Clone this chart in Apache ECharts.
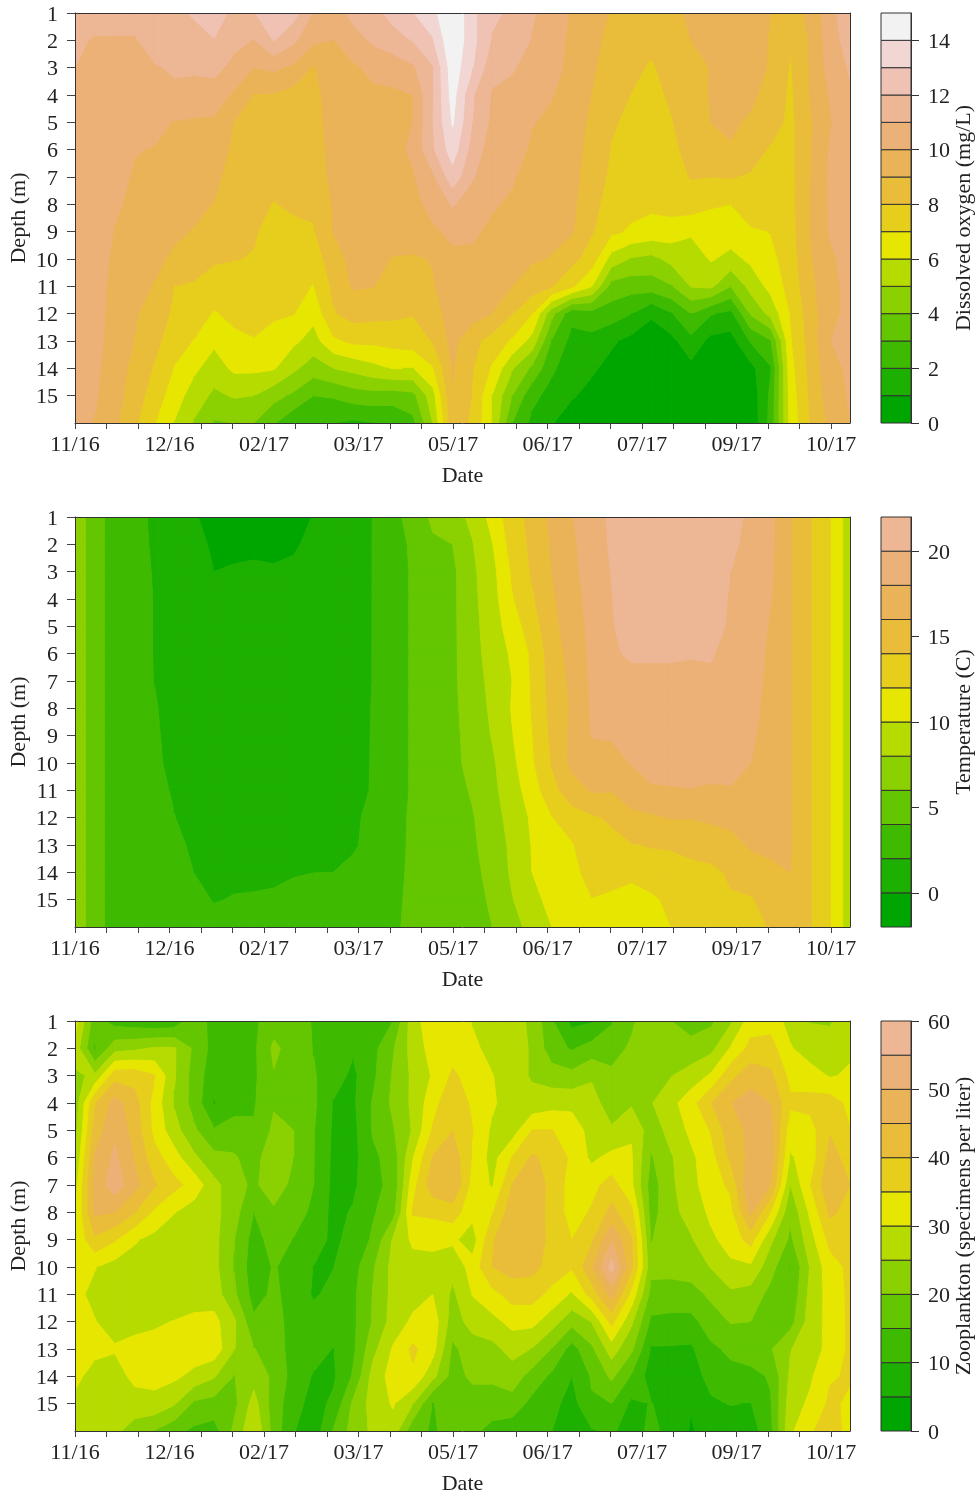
<!DOCTYPE html>
<html><head><meta charset="utf-8">
<style>html,body{margin:0;padding:0;background:#fff}#c{width:976px;height:1493px}</style>
<script src="https://cdn.jsdelivr.net/npm/echarts@6/dist/echarts.min.js"></script>
</head><body><div id="c"></div>
<script>
const dateLabels=['11/16','12/16','02/17','03/17','05/17','06/17','07/17','09/17','10/17'];
const depths=[1,2,3,4,5,6,7,8,9,10,11,12,13,14,15];
const oxygenTicks=[0,2,4,6,8,10,12,14];
const temperatureTicks=[0,5,10,15,20];
const zooplanktonTicks=[0,10,20,30,40,50,60];
// each inner array: one sampling date, depth 1..16
const oxygen=[
[11.5,11.2,11,10.9,10.8,10.7,10.7,10.6,10.6,10.5,10.5,10.4,10.4,10.4,10.3,10.2],
[11.5,10.9,10.8,10.8,10.7,10.7,10.6,10.6,10.5,10.5,10.4,10.4,10.3,10.2,10.1,9.95],
[11.5,10.9,10.8,10.6,10.5,10.4,10.3,10.15,9.95,9.8,9.7,9.6,9.6,9.5,9.4,9.2],
[11.4,10.9,10.6,10.4,10.2,10.05,9.9,9.75,9.6,9.4,9.3,9.1,8.97,8.7,8.5,8.2],
[11.7,11.5,10.9,10.6,10.3,9.95,9.75,9.6,9.35,9.2,8.95,8.6,8.3,7.9,7.5,7.05],
[11.8,11.5,11.15,10.75,9.95,9.75,9.5,9.25,9.15,8.85,8,7.8,7.4,6.95,6.5,5.95],
[12.1,11.7,11.2,10.5,9.9,9.7,9.4,9.2,8.95,8.4,7.9,7.5,6.95,6.2,5.5,4.9],
[12.6,11.95,11.3,10.5,9.85,9.5,9.2,8.97,8.5,8.1,7.6,6.9,6.2,5.5,4.8,3.9],
[11.7,11.3,10.7,9.85,8.97,8.8,8.65,8.45,8.2,8.02,7.65,7.3,6.7,6.2,5.1,4],
[11.9,10.95,10,8.95,8.8,8.6,8.4,8.2,8.05,7.97,7.6,7.3,6.95,6.2,5,4],
[13.05,12.05,10.2,8.9,8.65,8.4,8.2,7.97,7.8,7.6,7.4,7.15,6.6,6.1,4.35,3.1],
[12.4,11.2,9.8,8.6,8.4,8.3,8.15,8.1,7.85,7.6,7.3,7.03,6.2,5.2,3.8,2.2],
[10.9,10.2,8.9,8.6,8.5,8.4,8.3,8.2,7.9,7.4,6.95,6.3,5.6,4.5,3,2.3],
[10.5,9.97,9.8,9.6,9.5,9.4,9.3,9.05,9.02,8.6,8.2,7.9,6.8,5,3.1,2],
[11.3,10.6,9.85,9.7,9.6,9.55,9.5,9.45,9.35,9.25,9.1,8.4,7.2,5.3,3.5,1.8],
[11.7,11.15,10.25,9.8,9.7,9.65,9.6,9.55,9.45,9.3,9.02,8.3,7.2,5.7,3.6,1.95],
[12.3,11.65,10.35,9.85,9.75,9.65,9.6,9.55,9.4,8.95,8.6,8.2,7.35,6.05,3.5,2.1],
[12.95,12.05,10.85,10,10,10.2,9.9,9.7,9.45,8.9,8.5,8.05,7.5,5.95,3.7,2.7],
[13.7,12.9,11.9,11.9,11.95,11.85,10.8,10.3,9.85,9.05,8.9,8.6,8.05,6.9,5.6,5],
[15,14.9,14.6,14.4,14.1,13.5,12.6,11.1,10.2,9.8,9.6,9.4,9.3,9.05,8.95,8.6],
[13.2,13.3,13.05,12.1,12,11.6,11.1,10.5,10.15,9.8,9.6,9.4,8.3,8.05,7.95,7.8],
[12.2,11.9,11.3,10.9,10.75,10.45,10.25,10.1,9.8,9.55,9.35,8.98,7.6,6.85,5.95,5.93],
[11.8,11.5,11.1,10.7,10.55,10.4,10.1,9.85,9.7,9.35,9,8.03,6.85,5.1,4,3],
[11.1,10.95,10.6,10.4,10.05,9.85,9.6,9.45,9.35,9.1,8.5,7.02,5.65,3.8,2.3,1.75],
[10.55,10.4,10.3,10.05,9.8,9.65,9.55,9.4,9.2,8.95,8.05,4.3,2.9,2.2,1.6,1.05],
[9.9,9.8,9.75,9.6,9.5,9.4,9.3,9.2,9.08,8.3,7.15,2.3,1.7,1.3,1.1,0.5],
[9.5,9.3,9.15,8.98,8.8,8.65,8.5,8.35,8.1,7.5,6.05,2.6,1.7,1.15,0.7,0.3],
[8.9,8.7,8.5,8.3,8.1,7.95,7.8,7.5,7.2,5.6,3.6,2.5,1.15,0.7,0.4,0.1],
[8.8,8.5,8.2,7.98,7.8,7.7,7.5,7.3,6.85,4.9,3.4,2,0.7,0.4,0.2,0.05],
[8.6,8.2,7.9,7.8,7.6,7.5,7.4,7.2,6.6,4.7,3.5,1.1,0.6,0.4,0.2,0.05],
[8.7,8.5,8.3,8.1,7.95,7.85,7.6,7.4,6.5,5.3,3.9,1.9,0.7,0.4,0.2,0.05],
[9.2,9,8.8,8.6,8.4,8.2,8.05,7.5,6.15,5.4,5.05,3,1.7,0.7,0.4,0.1],
[9.3,9.2,9.02,9.05,9,8.55,8,7.1,6.45,6.1,5.2,2.1,0.7,0.4,0.2,0.05],
[9.4,9.4,9.3,9.2,9.1,8.95,8.05,7,6.5,5.7,4,1.7,0.6,0.3,0.15,0.05],
[9.45,9.5,9.4,9.15,8.9,8.4,7.9,7.4,6.9,6.2,5.35,4.1,2.1,0.7,0.3,0.2],
[9.02,8.9,8.9,8.7,8.45,7.9,7.7,7.3,7.02,6.7,6.3,5.3,2.9,1.9,2.2,2.3],
[8.6,8.1,7.9,7.8,7.75,7.75,7.7,7.65,7.6,7.5,7.35,7.02,6.85,6.6,6.4,6.3],
[9.2,9.1,9.05,9.02,8.9,8.9,8.95,9,9,8.9,8.7,8.5,8.4,8.3,8.15,8],
[10.6,10.5,10.4,10.1,9.9,10.1,10.15,10.1,10.1,9.8,9.7,9.7,9.98,9.65,9.5,9.25],
[11.8,11.5,11.1,10.9,10.8,10.7,10.7,10.6,10.5,10.4,10.3,10.3,10.3,10.2,10.1,9.98]];
const temperature=[
[7,7,7,7,7,7,7,7,7,7,7,7,7,7,7,7],
[5.1,5.1,5.1,5.1,5.1,5.1,5.1,5.1,5.1,5.1,5.1,5.1,5.1,5.1,5.1,5.1],
[2.8,2.8,2.8,2.8,2.8,2.8,2.8,2.8,2.8,2.8,2.8,2.8,2.8,2.8,2.8,2.8],
[2.5,2.5,2.5,2.5,2.5,2.5,2.5,2.5,2.6,2.6,2.6,2.7,2.7,2.8,2.8,2.9],
[1.7,1.8,1.9,1.95,1.95,1.95,1.97,2.15,2.25,2.35,2.4,2.5,2.6,2.7,2.8,2.9],
[0.9,1,1.1,1.2,1.2,1.2,1.2,1.3,1.4,1.5,1.85,2.03,2.4,2.6,2.8,3],
[0.15,0.4,0.6,0.7,0.8,0.8,0.9,0.9,1,1.1,1.3,1.5,1.7,1.98,2.5,2.9],
[-0.6,-0.2,0,0.3,0.4,0.5,0.6,0.7,0.8,0.9,1,1.2,1.4,1.7,1.9,2.6],
[-1,-0.5,0.2,0.4,0.5,0.5,0.6,0.7,0.7,0.8,0.9,1,1.3,1.6,2.1,2.7],
[-1.2,-0.4,0.3,0.4,0.5,0.5,0.5,0.6,0.6,0.7,0.8,1,1.2,1.5,2.2,2.8],
[-1.2,-0.5,0.2,0.3,0.4,0.4,0.4,0.5,0.5,0.6,0.7,0.9,1.2,1.6,2.3,2.8],
[-0.9,-0.2,0.3,0.4,0.5,0.5,0.5,0.6,0.6,0.7,0.8,1,1.3,1.9,2.4,2.9],
[0.1,0.4,0.5,0.6,0.6,0.6,0.7,0.7,0.8,0.9,1,1.2,1.5,1.99,2.5,2.9],
[0.6,0.7,0.8,0.8,0.9,0.9,1,1,1.1,1.2,1.3,1.5,1.7,2,2.5,2.9],
[0.9,1,1,1.1,1.1,1.2,1.2,1.3,1.4,1.5,1.6,1.8,1.85,2.3,2.7,3],
[2.05,2.05,2.05,2.05,2.05,2.05,2.05,2.1,2.1,2.1,2.1,2.3,2.4,2.6,2.8,3],
[3.5,3.25,3.2,3.2,3.2,3.2,3.2,3.2,3.2,3.2,3.2,3.3,3.3,3.4,3.5,3.6],
[4.6,4.3,4.2,4.2,4.2,4.2,4.2,4.2,4.2,4.2,4.2,4.3,4.35,4.4,4.5,4.6],
[6.4,5.7,5.3,5.2,5.2,5.2,5.1,5.1,5.1,5.1,5.1,5.1,5,5,4.9,4.9],
[7.3,6,5.6,5.6,5.6,5.6,5.6,5.5,5.4,5.4,5.3,5.2,5.1,5.1,5,5],
[8.4,7.9,7.6,7.5,7.4,7.3,7.2,7.1,6.9,6.7,6.2,5.85,5.7,5.5,5.3,5.1],
[10.7,9.9,9.4,9.2,9,8.8,8.5,8.3,8.1,7.7,7.5,7.2,6.9,6.6,6.3,6],
[13.1,12.8,12.2,11.8,11,10.3,10,10.15,9.9,9.5,9.1,8.7,8.4,8.3,7.9,7.2],
[14.6,14.4,14.2,13.7,13,12.3,12.2,12.1,11.9,11.7,11,10.3,10.1,10,9.4,8.7],
[16.5,16.2,16,15.7,15.4,15,14.8,14.6,14.4,14.1,13.4,11.9,11.5,11.1,10.6,10],
[17.9,17.7,17.6,17.3,17,16.7,16.4,16.2,16.4,16.5,15,13.2,11.8,11.5,11.3,11.2],
[18.9,18.8,18.7,18.6,18.5,18.4,18.3,18.2,18.05,17.4,16.2,13.7,13.3,12.6,11.95,11.6],
[20.4,20.3,20.05,19.95,19.9,19.9,19.6,19.2,18.1,17.6,16.1,14.3,13.4,12.6,11.7,11.4],
[21,21,20.9,20.8,20.6,20.1,19.8,19.5,19.3,18.05,17.2,15.4,13.9,12.3,11.5,11.2],
[21.2,21.1,21,21,20.8,20.1,19.8,19.5,19.3,18.9,17.7,15.7,14.1,13.1,11.6,11.2],
[21.3,21.2,21.1,21,20.9,20.1,19.8,19.6,19.4,19,17.8,16.1,14.2,13.2,12.5,12],
[21.3,21.2,21.1,21,20.9,20.05,19.8,19.6,19.4,19,17.9,16.05,14.5,13.5,12.9,12.6],
[21.2,21.1,21,20.9,20.8,20.1,19.8,19.6,19.4,19.1,17.6,16.3,15,13.5,13.1,12.8],
[20.8,20.4,20,19.8,19.7,19.6,19.5,19.4,19.2,18.9,17.8,16.5,15.4,14.3,13.8,13.3],
[19.5,19.4,19.3,19.2,19.1,19,18.9,18.7,18.4,18,17.6,16.9,16.2,15.2,13.8,13.5],
[18.4,18.4,18.3,18.1,17.8,17.6,17.4,17.2,17,16.9,16.8,16.7,16.3,15.7,14.8,14.1],
[16.1,16.1,16.1,16.1,16.1,16.1,16.1,16.1,16.1,16.1,16.1,16.1,16.1,16,15.2,15],
[14.1,14.1,14.1,14.1,14.1,14.1,14.1,14.1,14.1,14.1,14.1,14.1,14.1,14.1,14.1,14.1],
[12.05,12.05,12.05,12.05,12.05,12.05,12.05,12.05,12.05,12.05,12.05,12.05,12.05,12.05,12.05,12.05],
[8.8,8.8,8.8,8.8,8.8,8.8,8.8,8.8,8.8,8.8,8.8,8.8,8.8,8.8,8.8,8.8]];
const zooplankton=[
[32,28,24,22,23,25,28,29,30.5,31,31,31,31,31,29,28],
[17,14.5,26,39.5,42,45.3,46.5,45.8,39,30.2,29,30.2,31,28.5,27.5,26.5],
[13,23,38,47,49,51,53,45,35.5,28,27.5,28,30.5,27.5,26.5,26],
[12,24,38,42,43,44.5,46.5,40.2,30.5,28,27,28.5,31.5,31.5,27.5,23],
[11,25.5,35.3,33,33.5,37,40.5,34,28.5,27,27,29.3,31.7,31.5,28.5,19.8],
[11.5,25.5,25.5,24.5,27,32,36.5,30.2,27,26.5,26.5,30.2,30.5,31,25.5,16.5],
[19,19,17.8,18,20.8,26,33,27.5,27,26.5,28,31,33,28.5,19,14],
[12.5,13,12,9.7,15.5,21.5,26.5,26.5,26.5,26.5,27.5,31.5,33,25.5,18,13],
[11.5,11.5,12,12.5,17.5,20.5,22,22,20.2,19.8,21,26,25.3,19.8,18.5,21],
[14,14,14,14.5,15.5,18,19,15,13,12,13,16,20.2,23,27,29.5],
[17.8,21,19.7,19.5,21,23.5,23,19,17,15.4,16,17,17.5,19,17.5,18],
[18,18,18,18,20,20,18.5,17,14.8,13,13,13,13,13,12,10.3],
[14.5,14.8,15.5,16,15.3,15.2,15.1,14,12,9.9,9.5,11.8,12,9.6,8,7],
[12,12,12,9.7,9.3,9,8.7,8.5,9,9.9,11,12.5,9.8,9.2,11,15.3],
[12.5,10.5,9,9.2,8.5,8.5,9,10.5,11.5,13,14,14,14,15.6,21,22],
[13,13.5,14,15.5,15.5,14,14,14.5,15.8,19.5,20.3,20.5,23.5,27,27,26],
[15,19.5,20.5,21,19.5,17,16,18,25.5,26.5,26.5,27,30.5,32,30.5,28],
[28,27,26,26,25.5,29.7,33,35.5,31,28,28,31,36,34,25.2,16.5],
[33,32,30.5,33,35.5,40.3,43,36,31.5,28,30,33,32,26.5,14.8,14.5],
[33,33,35.8,39,39.9,43,45,37.5,31,26.5,24,22.5,19,18,17,16.5],
[29.7,31,33,34,35.2,34.5,33,31.5,27.5,32,30.2,27,22.5,21,17.5,16],
[28,28.5,30.2,31,29,28,29.5,34.5,39.5,40,33.5,28.5,23.5,21,17.5,13.5],
[27,27,27,26.5,27.5,35.2,40.2,43,44,42,37,31.5,26.8,22.5,18,12],
[24,24.5,24.5,26.5,35,40.7,44,43.5,44,41.5,37,31.5,24.8,18,13.5,11],
[15.5,17,22.5,28,35.1,38.5,38,38,38,38,33.5,27.2,19.7,14,11.5,10],
[8.5,14.5,21.5,28.5,33,34,33,33,35,35.5,29.3,21.7,13,10,8,8],
[9.5,17,24.5,26.5,28,29,33.5,35.5,39,44,37,25.2,19,15.5,14.5,9.5],
[14.5,18,21,23,25.5,31.5,37,41.5,49.5,57,47,36.5,27.5,21,15,11],
[19,20.8,22,24.3,29.5,30.5,31,36.5,40.5,41,33.5,26,21,14.5,9,7],
[24,24.5,24.5,24.7,22,19.5,17.5,18,19.8,21.5,18.2,14,9.5,7.5,10.2,11.5],
[20,23,24.8,28.5,27,24.5,24,23.5,22.5,21.5,18,13.5,9.5,8.5,7.5,8],
[17.5,22,27,33,31,29,28.5,27,24.5,22.5,18,13.5,9.2,7.8,5.5,4.5],
[19,23.5,30.7,39.8,35.3,33,32.5,31,29,25.2,21,17.5,14,11.5,9.3,7],
[24.2,30.5,38.5,44.8,43,41,36,33.5,32,29,24,20.3,16,13.5,10.2,7.5],
[32.5,36.5,43,47,46,46.5,49.9,46,37,29,23,20,17.5,13.5,9.8,7.5],
[33,37,41,44.9,47,47,45,35,26,22,18.5,18.3,19.5,15.5,14.5,13.5],
[28,30.5,33.5,36,32,29.5,25,21,19,14.8,16,18,24.7,26,27.5,29],
[24.8,27,32.5,36.5,33,32,34.8,31,28,25.4,26.5,27.5,28.5,29.2,31,34.5],
[24.5,27,29.5,37.5,39.5,42,44,41,36.5,33,32,31.5,31,34.5,36,37],
[28,29,30.8,33.5,35.2,38,40,38,37,36,36,36,36,35.5,34,33.5]];

// terrain.colors(15)
function hsv(h,s,v){const i=Math.floor(h*6),f=h*6-i,p=v*(1-s),q=v*(1-f*s),t=v*(1-(1-f)*s);
 const m=[[v,t,p],[q,v,p],[p,v,t],[p,q,v],[t,p,v],[v,p,q]][i%6];
 return '#'+m.map(x=>Math.round(x*255).toString(16).padStart(2,'0')).join('');}
const palette=[];
for(let i=0;i<7;i++){const a=i/6;palette.push(hsv(1/3+(1/6-1/3)*a,1,0.65+0.25*a));}
for(let i=1;i<=8;i++){const a=i/8;palette.push(hsv(1/6*(1-a),1-a,0.9+0.05*a));}

function clip(poly,level,keepAbove){
 const out=[];
 for(let i=0;i<poly.length;i++){
  const a=poly[i],b=poly[(i+1)%poly.length];
  const ia=keepAbove?a[2]>=level:a[2]<=level, ib=keepAbove?b[2]>=level:b[2]<=level;
  if(ia)out.push(a);
  if(ia!==ib){const t=(level-a[2])/(b[2]-a[2]);out.push([a[0]+(b[0]-a[0])*t,a[1]+(b[1]-a[1])*t,level]);}
 }
 return out;
}
function cellData(grid){
 const d=[];
 for(let i=0;i<grid.length-1;i++)for(let j=0;j<15;j++)
  d.push([i,j+1,grid[i][j],grid[i+1][j],grid[i+1][j+1],grid[i][j+1]]);
 return d;
}
const xTickStep=1.5855, tickCount=25, lastCol=39;
const xTicks=Array.from({length:tickCount},(_,i)=>i*xTickStep);
const xLabelVals=dateLabels.map((_,i)=>i*3*xTickStep);
const textColor='#222', lineColor='#333', font='Liberation Serif', fs=22;
const richLabel={t:{color:textColor,fontFamily:font,fontSize:fs,padding:[4,0,0,0]}};
const richFmt=v=>'{t|'+v+'}';

const panels=[
 {data:oxygen,min:0,step:1,bands:15,ticks:oxygenTicks,name:'Dissolved oxygen (mg/L)',top:13},
 {data:temperature,min:-2,step:2,bands:12,ticks:temperatureTicks,name:'Temperature (C)',top:517},
 {data:zooplankton,min:0,step:5,bands:12,ticks:zooplanktonTicks,name:'Zooplankton (specimens per liter)',top:1021}
];
const grid=[],xAxis=[],yAxis=[],series=[];
panels.forEach(p=>{
 const gMain=grid.length, gBar=gMain+1;
 grid.push({left:75,top:p.top,width:775,height:410,outerBoundsMode:'none'},{left:881,top:p.top,width:30,height:410,outerBoundsMode:'none'});
 const xi=xAxis.length, yi=yAxis.length;
 const max=p.min+p.step*p.bands;
 const lineS={show:true,onZero:false,lineStyle:{color:lineColor,width:1}};
 xAxis.push({gridIndex:gMain,type:'value',min:0,max:lastCol,position:'bottom',z:10,axisLine:lineS,splitLine:{show:false},
  axisTick:{show:true,length:6,lineStyle:{color:'#444'},customValues:xTicks},
  axisLabel:{color:textColor,fontFamily:font,fontSize:fs,margin:11,customValues:xLabelVals,
   formatter:v=>dateLabels[Math.round(v/(3*xTickStep))]},
  name:'Date',nameLocation:'middle',nameGap:42,nameMoveOverlap:false,nameTextStyle:{color:textColor,fontFamily:font,fontSize:fs}});
 xAxis.push({gridIndex:gMain,type:'value',min:0,max:lastCol,position:'top',z:10,axisLine:lineS,axisTick:{show:false},axisLabel:{show:false},splitLine:{show:false}});
 xAxis.push({gridIndex:gBar,type:'value',min:0,max:1,show:false});
 yAxis.push({gridIndex:gMain,type:'value',min:1,max:16,inverse:true,position:'left',z:10,axisLine:lineS,splitLine:{show:false},
  axisTick:{show:true,length:8,lineStyle:{color:'#444'},customValues:depths},
  axisLabel:{margin:17,customValues:depths,formatter:richFmt,rich:richLabel},
  name:'Depth (m)',nameLocation:'middle',nameGap:45,nameRotate:90,nameMoveOverlap:false,nameTextStyle:{color:textColor,fontFamily:font,fontSize:fs}});
 yAxis.push({gridIndex:gMain,type:'value',min:1,max:16,inverse:true,position:'right',z:10,axisLine:lineS,axisTick:{show:false},axisLabel:{show:false},splitLine:{show:false}});
 yAxis.push({gridIndex:gBar,type:'value',min:p.min,max:max,position:'right',z:10,axisLine:lineS,splitLine:{show:false},
  axisTick:{show:true,length:8,lineStyle:{color:lineColor},customValues:p.ticks},
  axisLabel:{margin:17,customValues:p.ticks,formatter:richFmt,rich:richLabel},
  name:p.name,nameLocation:'middle',nameGap:42,nameRotate:90,nameMoveOverlap:false,nameTextStyle:{color:textColor,fontFamily:font,fontSize:fs}});
 series.push({type:'custom',xAxisIndex:xi,yAxisIndex:yi,silent:true,animation:false,clip:true,z:2,
  dimensions:['x','y','a','b','c','d'],encode:{x:0,y:1},data:cellData(p.data),
  renderItem:(params,api)=>{
   const i=api.value(0),j=api.value(1);
   const q=[[i,j,api.value(2)],[i+1,j,api.value(3)],[i+1,j+1,api.value(4)],[i,j+1,api.value(5)]];
   const vs=q.map(v=>v[2]),lo=Math.min(...vs),hi=Math.max(...vs);
   const children=[];
   for(let b=0;b<p.bands;b++){
    const l=p.min+b*p.step,h=l+p.step;
    if(hi<l||lo>h)continue;
    let poly=clip(q,l,true);
    if(poly.length)poly=clip(poly,h,false);
    if(poly.length<3)continue;
    children.push({type:'polygon',shape:{points:poly.map(v=>api.coord([v[0],v[1]]))},
     style:{fill:palette[b],stroke:palette[b],lineWidth:1}});
   }
   return {type:'group',children};
  }});
 const barData=[];
 for(let b=0;b<p.bands;b++)barData.push([p.min+b*p.step,p.min+(b+1)*p.step,b]);
 series.push({type:'custom',xAxisIndex:xi+2,yAxisIndex:yi+2,silent:true,animation:false,z:2,
  dimensions:['lo','hi','idx'],encode:{y:[0,1]},data:barData,
  renderItem:(params,api)=>{
   const a=api.coord([0,api.value(1)]),c=api.coord([1,api.value(0)]);
   return {type:'rect',shape:{x:a[0],y:a[1],width:c[0]-a[0],height:c[1]-a[1]},
    style:{fill:palette[api.value(2)],stroke:lineColor,lineWidth:1}};
  }});
});
const chart=echarts.init(document.getElementById('c'),null,{renderer:'canvas'});
chart.setOption({animation:false,backgroundColor:'#fff',grid,xAxis,yAxis,series});
</script></body></html>
